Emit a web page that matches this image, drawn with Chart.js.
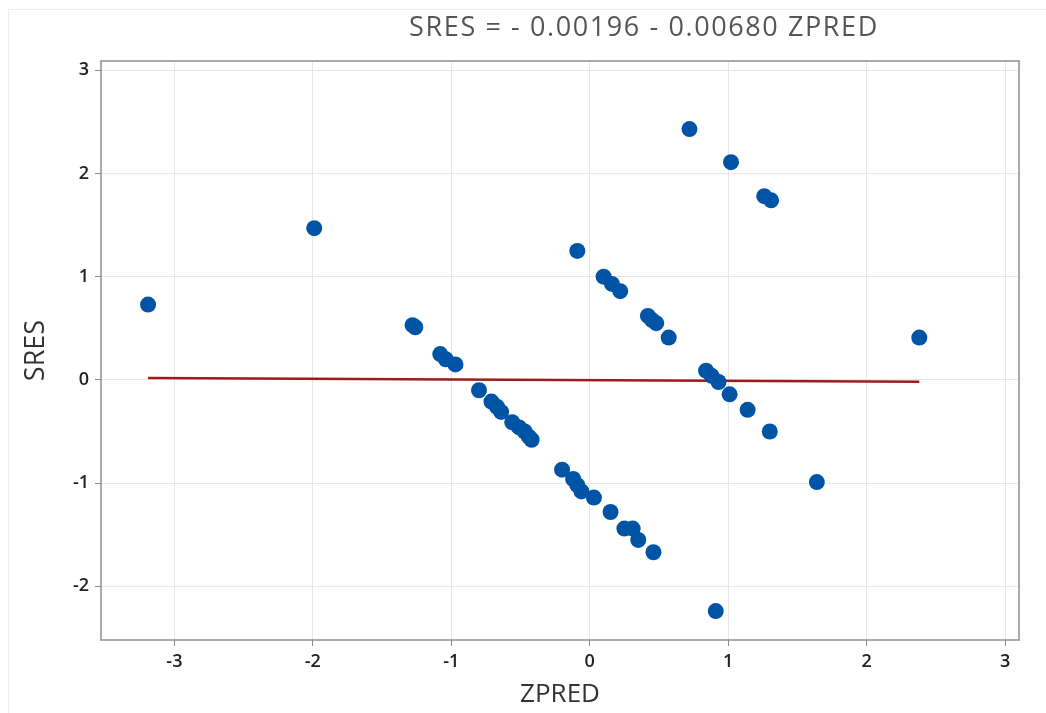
<!DOCTYPE html>
<html>
<head>
<meta charset="utf-8">
<script src="https://cdn.jsdelivr.net/npm/chart.js@4"></script>
<style>
  html, body { margin: 0; padding: 0; background: #fff; }
  #wrap { position: relative; width: 1046px; height: 713px; }
  #frame { position: absolute; left: 8px; top: 9px; right: 0; bottom: 0; border-left: 1px solid #eee; border-top: 1px solid #eee; pointer-events: none; }
</style>
</head>
<body>
<div id="wrap">
  <canvas id="residChart" width="1046" height="713"></canvas>
  <div id="frame"></div>
</div>
<script>
// standardized predicted values (x) and standardized residuals (y)
const zpred = [
  -3.19, -1.99, -1.28, -1.26, -1.08, -1.04, -0.97, -0.80, -0.71, -0.67,
  -0.64, -0.56, -0.51, -0.47, -0.44, -0.42, -0.20, -0.12, -0.09, -0.06,
  0.03, 0.15, 0.25, 0.31, 0.35, 0.46, 0.91, -0.09, 0.10, 0.16,
  0.22, 0.42, 0.45, 0.48, 0.57, 0.72, 1.02, 1.26, 1.31, 0.84,
  0.88, 0.93, 1.01, 1.14, 1.30, 1.64, 2.38
];
const sres = [
  0.73, 1.47, 0.53, 0.51, 0.25, 0.20, 0.15, -0.10, -0.21, -0.26,
  -0.31, -0.41, -0.46, -0.50, -0.55, -0.58, -0.87, -0.96, -1.02, -1.08,
  -1.14, -1.28, -1.44, -1.44, -1.55, -1.67, -2.24, 1.25, 1.00, 0.93,
  0.86, 0.62, 0.58, 0.55, 0.41, 2.43, 2.11, 1.78, 1.74, 0.09,
  0.04, -0.02, -0.14, -0.29, -0.50, -0.99, 0.41
];
const fitIntercept = -0.00196;
const fitSlope = -0.00680;
const xTicks = [-3, -2, -1, 0, 1, 2, 3];
const yTicks = [-2, -1, 0, 1, 2, 3];
const titleText = "SRES = - 0.00196 - 0.00680 ZPRED";

const points = zpred.map((x, i) => ({ x: x, y: sres[i] }));
const xLo = Math.min(...zpred), xHi = Math.max(...zpred);
const fitLine = [
  { x: xLo, y: fitIntercept + fitSlope * xLo },
  { x: xHi, y: fitIntercept + fitSlope * xHi }
];

// frame round the plot area + equation title
const framePlugin = {
  id: "frame",
  afterDraw(chart) {
    const { ctx, chartArea: a } = chart;
    ctx.save();
    ctx.strokeStyle = "#8f8f8f";
    ctx.lineWidth = 1.5;
    ctx.strokeRect(a.left, a.top, a.right - a.left, a.bottom - a.top);
    ctx.fillStyle = "#555";
    ctx.font = "27px 'Open Sans'";
    ctx.letterSpacing = "1.6px";
    ctx.textAlign = "center";
    ctx.textBaseline = "middle";
    ctx.fillText(titleText, (a.left + a.right) / 2 + 84, 28);
    ctx.restore();
  }
};

const tickFont = { family: "'Open Sans'", size: 18, weight: "600" };

new Chart(document.getElementById("residChart").getContext("2d"), {
  type: "scatter",
  data: {
    datasets: [
      {
        type: "line",
        data: fitLine,
        borderColor: "#9e1b1b",
        borderWidth: 2.5,
        pointRadius: 0,
        fill: false,
        order: 2
      },
      {
        data: points,
        backgroundColor: "#0054a6",
        borderWidth: 0,
        pointRadius: 8,
        order: 1
      }
    ]
  },
  plugins: [framePlugin],
  options: {
    responsive: false,
    animation: false,
    layout: { padding: { left: 0, top: 61, right: 27, bottom: 0 } },
    plugins: { legend: { display: false }, tooltip: { enabled: false } },
    scales: {
      x: {
        type: "linear",
        min: -3.53,
        max: 3.1,
        afterFit: s => { s.height = 73; },
        afterBuildTicks: s => { s.ticks = xTicks.map(v => ({ value: v })); },
        grid: { color: "#e6e6e6", tickColor: "#888", tickLength: 6, lineWidth: 1 },
        border: { display: false },
        ticks: { color: "#222", font: tickFont, padding: 5 },
        title: {
          display: true,
          text: "ZPRED",
          color: "#333",
          font: { family: "'Open Sans'", size: 26 },
          padding: { top: 0, bottom: 3 }
        }
      },
      y: {
        type: "linear",
        min: -2.52,
        max: 3.09,
        afterFit: s => { s.width = 101; },
        afterBuildTicks: s => { s.ticks = yTicks.map(v => ({ value: v })); },
        grid: { color: "#e6e6e6", tickColor: "#888", tickLength: 6, lineWidth: 1 },
        border: { display: false },
        ticks: { color: "#222", font: tickFont, padding: 6 },
        title: {
          display: true,
          text: "SRES",
          color: "#333",
          font: { family: "'Open Sans'", size: 27 },
          padding: { top: 20, bottom: 0 }
        }
      }
    }
  }
});
</script>
</body>
</html>
